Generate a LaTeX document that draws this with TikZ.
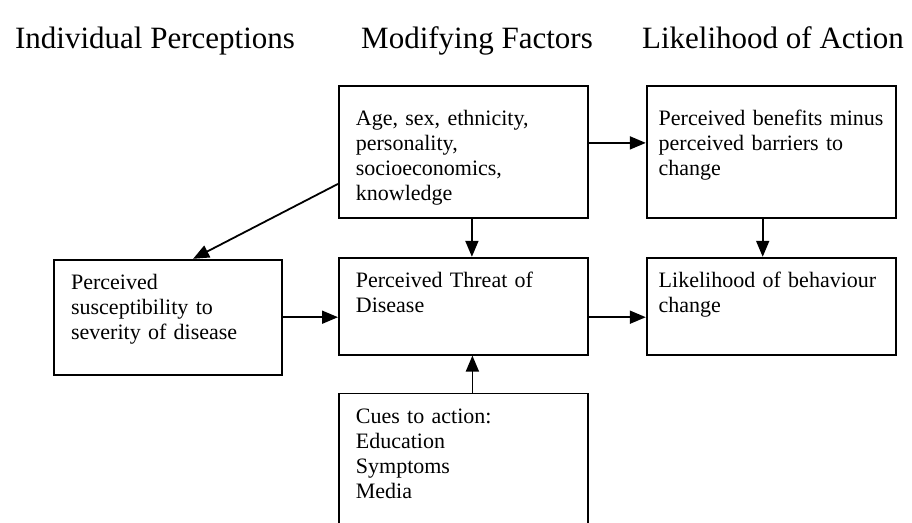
\documentclass[tikz,border=0pt]{standalone}
\usepackage{fontspec}
\setmainfont{Liberation Serif}
\usetikzlibrary{arrows.meta, positioning}

\begin{document}
\begin{tikzpicture}[x=1pt, y=-1pt, node distance=57pt, every node/.style={font=\fontsize{22}{25}\selectfont}]
    % Define styles for the blocks
    \tikzstyle{heading} = [font=\fontsize{31}{36}\selectfont, anchor=base, inner sep=0pt]
    \tikzstyle{block} = [rectangle, draw=black, line width=1.8pt, text width=215pt, align=left, inner xsep=17pt, inner ysep=14pt, text height=16pt]
    \tikzstyle{arrow} = [line width=1.8pt, -{Triangle[length=16pt, width=13pt]}]

    \useasboundingbox (0,0) rectangle (912,522);
    \clip (0,0) rectangle (912,522);

    % Column headings
    \node (hindiv) [heading] at (155,48) {Individual Perceptions};
    \node (hmodify) [heading] at (477,48) {Modifying Factors};
    \node (haction) [heading] at (773,48) {Likelihood of Action};

    % Define nodes in the model
    \node (factors) [block, anchor=north west, text height=26pt, text depth=78pt] at (338,85) {Age, sex, ethnicity,\\ personality,\\ socioeconomics,\\ knowledge};
    \node (benefits) [block, right=of factors, text width=225pt, inner xsep=12pt, text height=26pt, text depth=78pt] {Perceived benefits minus\\ perceived barriers to\\ change};
    \node (threat) [block, below=38pt of factors, text depth=53pt] {Perceived Threat of\\ Disease};
    \node (likelihood) [block, right=of threat, text width=225pt, inner xsep=12pt, text depth=53pt] {Likelihood of behaviour\\ change};
    \node (suscept) [block, anchor=north east, text width=194pt, text depth=71pt] at ([xshift=-55pt, yshift=-2pt]threat.north west) {Perceived\\ susceptibility to\\ severity of disease};
    \node (cues) [block, below=37pt of threat, text depth=97pt] {Cues to action:\\ Education\\ Symptoms\\ Media};

    % Draw arrows between the nodes
    \draw [arrow] ([yshift=9pt]factors.east) -- ([yshift=9pt]benefits.west);
    \draw [arrow] ([xshift=8.5pt]factors.south) -- ([xshift=8.5pt]threat.north);
    \draw [arrow] ([xshift=-8.5pt]benefits.south) -- ([xshift=-8.5pt]likelihood.north);
    \draw [arrow] ([yshift=-32pt]factors.west) -- ([xshift=25pt]suscept.north);
    \draw [arrow] (suscept.east) -- (suscept.east -| threat.west);
    \draw [arrow] ([yshift=-11pt]threat.east) -- ([yshift=-11pt]likelihood.west);
    \draw [arrow] ([xshift=9pt]cues.north) -- ([xshift=9pt]threat.south);

\end{tikzpicture}
\end{document}
